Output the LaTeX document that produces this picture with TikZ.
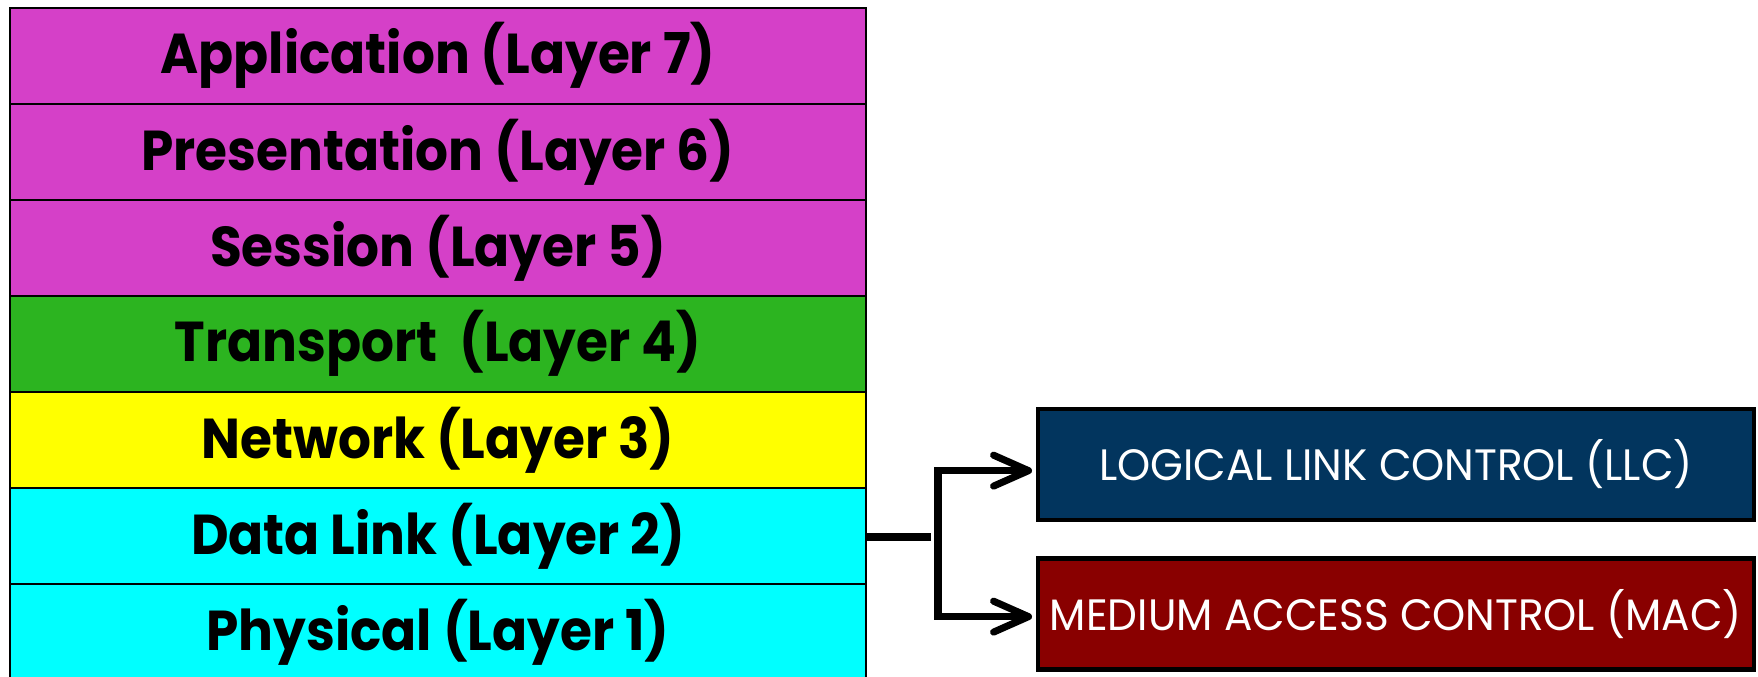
\documentclass[tikz,border=0pt]{standalone}
\usepackage{fontspec}
\setmainfont{Poppins}
\newfontfamily\layerfont[FakeStretch=0.92]{Poppins}
\newfontfamily\subfont[FakeStretch=0.96]{Poppins}
\usetikzlibrary{arrows.meta,positioning}
\definecolor{osiMagenta}{RGB}{213,64,200}
\definecolor{osiGreen}{RGB}{44,180,32}
\definecolor{osiYellow}{RGB}{255,255,0}
\definecolor{osiCyan}{RGB}{0,255,255}
\definecolor{llcBlue}{RGB}{2,53,94}
\definecolor{macRed}{RGB}{137,0,0}

\begin{document}
\begin{tikzpicture}[
  layer/.style={draw=black, line width=1pt, minimum width=17.12cm, minimum height=1.92cm,
    inner sep=0pt, font=\layerfont\bfseries\fontsize{32}{36}\selectfont},
  sublayer/.style={draw=black, line width=2.8pt, minimum width=14.32cm, minimum height=2.22cm,
    inner sep=0pt, text=white, font=\subfont\fontsize{25}{30}\selectfont},
  link/.style={line width=4pt}]
  \useasboundingbox (0,0) rectangle (35.16,-13.54);
  % OSI stack, top to bottom
  \node[layer, fill=osiMagenta] (app) at (8.76,-1.116) {Application (Layer 7)};
  \node[layer, fill=osiMagenta] (pres) at (8.76,-3.036) {Presentation (Layer 6)};
  \node[layer, fill=osiMagenta] (sess) at (8.76,-4.956) {Session (Layer 5)};
  \node[layer, fill=osiGreen] (trans) at (8.76,-6.876) {Transport\ \ (Layer 4)};
  \node[layer, fill=osiYellow] (net) at (8.76,-8.796) {Network (Layer 3)};
  \node[layer, fill=osiCyan] (dll) at (8.76,-10.716) {Data Link (Layer 2)};
  \node[layer, fill=osiCyan] (phy) at (8.76,-12.636) {Physical (Layer 1)};
  % Data link sublayers
  \node[sublayer, fill=llcBlue] (llc) at (27.92,-9.29) {LOGICAL LINK CONTROL (LLC)};
  \node[sublayer, fill=macRed] (mac) at (27.92,-12.28) {MEDIUM ACCESS CONTROL (MAC)};
  % Split arrows
  \coordinate (stub) at (18.62,-10.74);
  \coordinate (fork) at (18.76,-10.74);
  \draw[link] (dll.east |- stub) -- (stub);
  \draw[link, -{Straight Barb[length=0.7cm, width=0.62cm, round]}, shorten >=2pt]
    (fork) |- ([yshift=-3.5pt]llc.west);
  \draw[link, -{Straight Barb[length=0.7cm, width=0.62cm, round]}, shorten >=2pt]
    (fork) |- ([yshift=-1.5pt]mac.west);
\end{tikzpicture}
\end{document}
